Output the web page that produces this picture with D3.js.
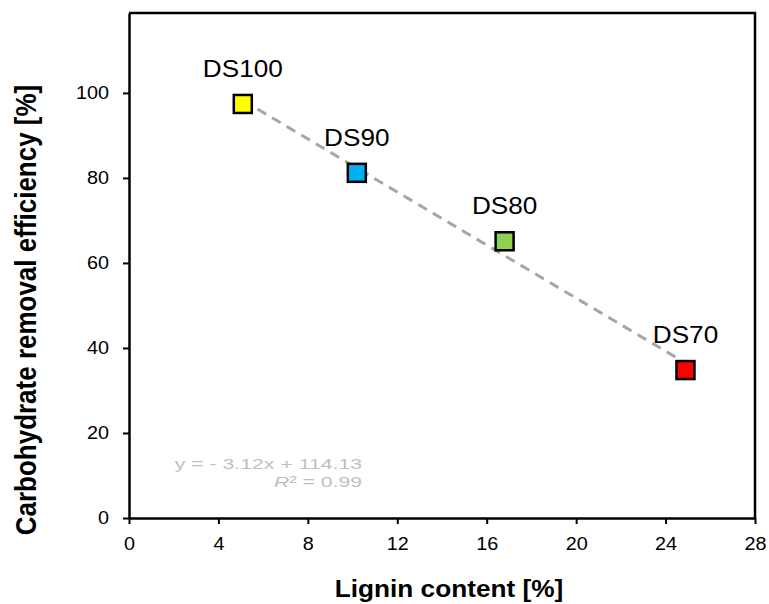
<!DOCTYPE html>
<html>
<head>
<meta http-equiv='Content-Type' content='text/html;charset=utf-8'/>
<title>Lignin vs carbohydrate removal</title>
<script src='https://d3js.org/d3.v7.min.js'></script>
<style>
  body { margin: 0; background: #fff; }
  text { font-family: Arial, 'Liberation Sans', sans-serif; }
</style>
</head>
<body>
<script>
'use strict';
// data
const samples = ['DS100', 'DS90', 'DS80', 'DS70'];
const lignin = [5.09, 10.19, 16.8, 24.89];        // x, %
const removal = [97.4, 81.2, 65.1, 34.8];         // y, %
const colours = ['#ffff00', '#00b0f0', '#92d050', '#ff0000'];
const xTicks = [0, 4, 8, 12, 16, 20, 24, 28];
const yTicks = [0, 20, 40, 60, 80, 100];
const slope = -3.12, intercept = 114.13;          // linear fit
const fitLabel = 'y = - 3.12x + 114.13';

const width = 769, height = 604;
const plot = {left: 129, right: 755, top: 13, bottom: 518};
const sx = 1.1;   // the original text is a little wider than Arial

const svg = d3.select('body').append('svg')
    .attr('width', width)
    .attr('height', height);

svg.append('rect')
    .attr('width', '100%')
    .attr('height', '100%')
    .attr('fill', '#ffffff');

const x = d3.scaleLinear().domain([0, 28]).range([plot.left, plot.right]);
const y = d3.scaleLinear().domain([0, 118.8]).range([plot.bottom, plot.top]);

function styleTicks(g) {
    g.select('.domain').attr('stroke-width', 2.5);
    g.selectAll('.tick line').attr('stroke-width', 2);
    g.selectAll('.tick text')
        .attr('font-size', 18)
        .attr('fill', '#000')
        .attr('font-family', 'Arial, Liberation Sans, sans-serif')
        .attr('transform', function() {
            const tx = +d3.select(this).attr('x') || 0;
            const ty = +d3.select(this).attr('y') || 0;
            return 'translate(' + tx + ',' + ty + ') scale(' + sx + ',1)';
        })
        .attr('x', 0).attr('y', 0);
}

// axes
svg.append('g')
    .attr('transform', 'translate(0,' + plot.bottom + ')')
    .call(d3.axisBottom(x).tickValues(xTicks).tickSize(6).tickPadding(13).tickSizeOuter(0))
    .call(styleTicks);

svg.append('g')
    .attr('transform', 'translate(' + plot.left + ',0)')
    .call(d3.axisLeft(y).tickValues(yTicks).tickSize(6).tickPadding(14).tickSizeOuter(0))
    .call(styleTicks);

// top and right frame
svg.append('path')
    .attr('d', 'M' + plot.left + ',' + plot.top + 'H' + plot.right + 'V' + plot.bottom)
    .attr('fill', 'none')
    .attr('stroke', '#000')
    .attr('stroke-width', 2.5);

// trend line
const x0 = d3.min(lignin), x1 = d3.max(lignin);
svg.append('line')
    .attr('x1', x(x0)).attr('y1', y(slope * x0 + intercept))
    .attr('x2', x(x1)).attr('y2', y(slope * x1 + intercept))
    .attr('stroke', '#a6a6a6')
    .attr('stroke-width', 3)
    .attr('stroke-dasharray', '10,7');

// markers
const pts = samples.map((s, i) => ({name: s, x: lignin[i], y: removal[i], c: colours[i]}));
const m = 18;
svg.selectAll('rect.pt').data(pts).enter().append('rect')
    .attr('class', 'pt')
    .attr('x', d => x(d.x) - m / 2)
    .attr('y', d => y(d.y) - m / 2)
    .attr('width', m).attr('height', m)
    .attr('fill', d => d.c)
    .attr('stroke', '#000')
    .attr('stroke-width', 2.5);

svg.selectAll('text.lab').data(pts).enter().append('text')
    .attr('class', 'lab')
    .attr('transform', d => 'translate(' + x(d.x) + ',' + (y(d.y) - 27) + ') scale(1.09,1)')
    .attr('text-anchor', 'middle')
    .attr('font-size', 24)
    .text(d => d.name);

// fit equation
const eq = svg.append('g')
    .attr('fill', '#bfbfbf')
    .attr('font-size', 15.5)
    .attr('text-anchor', 'end');
eq.append('text')
    .attr('transform', 'translate(362,469) scale(1.37,1)')
    .text(fitLabel);
const r2 = eq.append('text')
    .attr('transform', 'translate(362,487) scale(1.37,1)');
r2.append('tspan').attr('font-style', 'italic').text('R');
r2.append('tspan').text('² = 0.99');

// axis titles
svg.append('text')
    .attr('transform', 'translate(449,597) scale(1.14,1)')
    .attr('text-anchor', 'middle')
    .attr('font-size', 23)
    .attr('font-weight', 'bold')
    .text('Lignin content [%]');

svg.append('text')
    .attr('transform', 'translate(36,310) scale(1.15,1) rotate(-90)')
    .attr('text-anchor', 'middle')
    .attr('font-size', 26)
    .attr('font-weight', 'bold')
    .text('Carbohydrate removal efficiency [%]');
</script>
</body>
</html>
